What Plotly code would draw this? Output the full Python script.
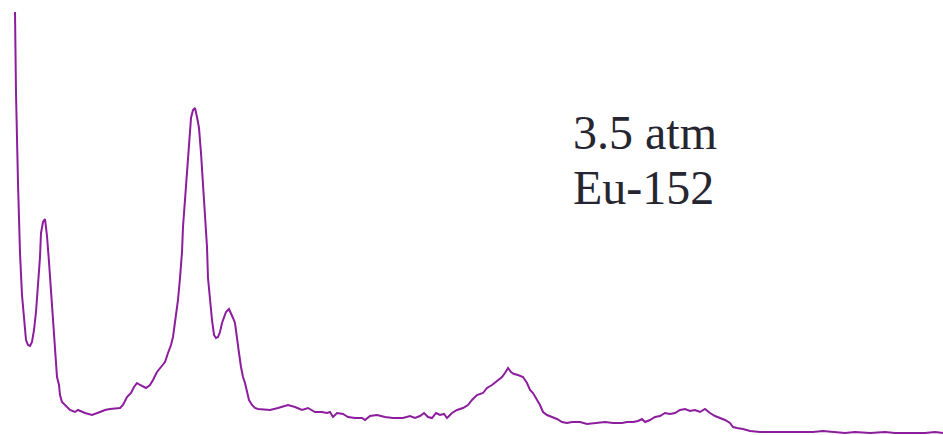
import plotly.graph_objects as go

# Eu-152 pulse-height spectrum at 3.5 atm (channel vs. relative counts)
channel = [
    15, 16, 18, 20, 22, 24, 26, 28, 30, 32, 34, 36, 38, 40, 41, 43, 45, 47, 49, 51,
    53, 55, 57, 59, 60, 62, 65, 70, 75, 78, 85, 92, 100, 105, 110, 120, 123, 127, 131, 134,
    137, 140, 146, 150, 153, 157, 161, 165, 168, 171, 173, 176, 178, 180, 182, 183, 185, 187, 189, 191,
    193, 195, 197, 199, 201, 203, 205, 207, 208, 210, 212, 214, 216, 218, 220, 222, 224, 226, 229, 231,
    233, 235, 237, 239, 241, 243, 245, 247, 249, 252, 255, 258, 265, 270, 278, 288, 295, 302, 308, 315,
    322, 327, 330, 333, 337, 343, 348, 355, 362, 365, 370, 377, 385, 393, 403, 407, 410, 415, 420, 424,
    428, 432, 436, 440, 444, 447, 452, 457, 463, 468, 472, 477, 483, 487, 492, 497, 502, 505, 508, 511,
    514, 518, 523, 527, 530, 533, 536, 540, 543, 547, 552, 557, 562, 567, 572, 580, 587, 595, 605, 613,
    622, 627, 633, 638, 642, 645, 650, 655, 660, 665, 670, 675, 680, 685, 690, 695, 700, 705, 710, 715,
    720, 725, 730, 733, 737, 743, 750, 760, 770, 778, 790, 800, 813, 823, 835, 845, 855, 870, 885, 895,
    905, 915, 925, 935, 943,
]

counts = [
    423, 342, 252, 182, 140, 113, 95, 90, 89, 93, 105, 123, 149, 178, 202, 213, 216, 199, 173, 143,
    113, 88, 58, 50, 40, 33, 30, 25, 23, 25, 22, 20, 23, 25, 26, 27, 30, 38, 42, 48,
    52, 50, 47, 50, 55, 63, 68, 73, 82, 90, 98, 118, 135, 157, 183, 208, 235, 265, 293, 317,
    325, 327, 318, 307, 282, 250, 220, 188, 157, 133, 115, 100, 97, 98, 103, 112, 118, 123, 126, 122,
    117, 112, 95, 82, 68, 58, 52, 43, 35, 30, 27, 26, 25, 25, 27, 30, 28, 25, 27, 23,
    23, 22, 23, 18, 22, 21, 18, 17, 17, 15, 19, 20, 18, 17, 17, 18, 19, 17, 19, 22,
    18, 17, 22, 20, 21, 17, 22, 25, 27, 30, 35, 40, 42, 47, 50, 54, 58, 62, 67, 63,
    61, 60, 58, 52, 45, 42, 37, 30, 23, 20, 18, 16, 13, 12, 13, 13, 11, 12, 13, 12,
    12, 13, 13, 14, 16, 13, 15, 18, 19, 22, 21, 22, 25, 26, 24, 25, 23, 26, 22, 19,
    17, 15, 12, 8, 7, 6, 4, 3, 3, 3, 3, 3, 3, 4, 3, 2, 3, 2, 3, 2,
    2, 2, 2, 3, 2,
]

labels = ["3.5 atm", "Eu-152"]

fig = go.Figure()
fig.add_trace(go.Scatter(
    x=channel,
    y=counts,
    mode="lines",
    line=dict(color="#8c1d9c", width=2),
    hoverinfo="skip",
))

label_font = dict(family="Liberation Serif, Times New Roman, serif", size=48, color="#262630")
for text, ypos in zip(labels, [303, 248]):
    fig.add_annotation(
        x=571, y=ypos, xref="x", yref="y",
        text=text, showarrow=False,
        xanchor="left", yanchor="middle",
        font=label_font,
    )

fig.update_layout(
    width=943, height=435,
    margin=dict(l=0, r=0, t=0, b=0),
    paper_bgcolor="white",
    plot_bgcolor="white",
    showlegend=False,
    xaxis=dict(range=[0, 943], visible=False, fixedrange=True),
    yaxis=dict(range=[0, 435], visible=False, fixedrange=True),
)

fig.write_html("out.html", config={"displayModeBar": False})
